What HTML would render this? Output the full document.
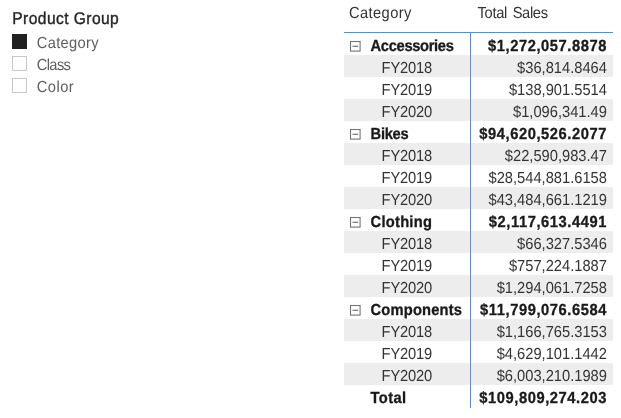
<!DOCTYPE html>
<html lang="en">
<head>
<meta charset="utf-8">
<title>Product Group</title>
<style>
html,body{margin:0;padding:0;background:#fff;}
body{width:621px;height:418px;position:relative;overflow:hidden;font-family:"Liberation Sans",sans-serif;font-size:14.7px;color:#333;text-rendering:geometricPrecision;}
.abs{position:absolute;white-space:nowrap;}
.slicer-title{left:12.3px;top:9.5px;transform:scaleY(1.088);transform-origin:0 15.4px;font-size:15.6px;font-weight:normal;-webkit-text-stroke:0.35px #252423;color:#252423;line-height:20px;letter-spacing:0.42px;}
.box{position:absolute;left:12px;width:15px;height:15px;box-sizing:border-box;border:1px solid #c8c8c8;background:#fff;}
.box.on{background:#212121;border-color:#212121;}
.item{left:36.8px;color:#605e5c;line-height:22px;height:22px;transform:scaleY(1.088);transform-origin:0 16.1px;}
.hdr{top:3px;line-height:22px;color:#333;transform:scaleY(1.088);transform-origin:0 16.1px;}
.hline{position:absolute;left:344px;top:32px;width:269px;height:1px;background:#3399ff;}
.vline{position:absolute;left:470px;top:32px;width:1px;height:376px;background:#3399ff;}
.row{position:absolute;left:344px;width:269px;height:22px;}
.row.alt{background:#ededed;}
.row .lbl{position:absolute;left:37.6px;top:3px;line-height:22px;white-space:nowrap;transform:scaleY(1.088);transform-origin:0 16.1px;}
.row .val{position:absolute;right:6.1px;top:3px;line-height:22px;white-space:nowrap;transform:scaleY(1.088);transform-origin:0 16.1px;}
.row.g .lbl,.row.t .lbl{left:26.6px;font-weight:bold;color:#1a1a1a;-webkit-text-stroke:0.3px #1a1a1a;}
.row.g .val,.row.t .val{font-weight:bold;color:#1a1a1a;letter-spacing:0.58px;right:6.6px;-webkit-text-stroke:0.3px #1a1a1a;}
.exp{position:absolute;left:5px;top:7px;width:13px;height:13px;}
</style>
</head>
<body>
<div class="abs slicer-title">Product Group</div>
<div class="box on" style="top:34px"></div><div class="abs item" style="top:33px;letter-spacing:0.31px">Category</div>
<div class="box" style="top:56px"></div><div class="abs item" style="top:55px;letter-spacing:-0.65px">Class</div>
<div class="box" style="top:78px"></div><div class="abs item" style="top:77px;letter-spacing:0.45px">Color</div>
<div class="abs hdr" style="left:349px;letter-spacing:0.39px">Category</div>
<div class="abs hdr" style="left:477.6px;letter-spacing:-0.34px;word-spacing:2px">Total Sales</div>

<div class="row g" style="top:33px"><svg class="exp" viewBox="0 0 13 13"><rect x="1.5" y="1.5" width="9.6" height="9.6" fill="none" stroke="#747474" stroke-width="1.1"/><rect x="3.5" y="5.7" width="5.6" height="1.2" fill="#747474"/></svg><span class="lbl" style="letter-spacing:-0.33px">Accessories</span><span class="val" style="margin-right:-0.58px">$1,272,057.8878</span></div>
<div class="row r alt" style="top:55px"><span class="lbl" style="letter-spacing:-0.15px">FY2018</span><span class="val">$36,814.8464</span></div>
<div class="row r" style="top:77px"><span class="lbl" style="letter-spacing:-0.15px">FY2019</span><span class="val">$138,901.5514</span></div>
<div class="row r alt" style="top:99px"><span class="lbl" style="letter-spacing:-0.15px">FY2020</span><span class="val">$1,096,341.49</span></div>
<div class="row g" style="top:121px"><svg class="exp" viewBox="0 0 13 13"><rect x="1.5" y="1.5" width="9.6" height="9.6" fill="none" stroke="#747474" stroke-width="1.1"/><rect x="3.5" y="5.7" width="5.6" height="1.2" fill="#747474"/></svg><span class="lbl" style="letter-spacing:-0.3px">Bikes</span><span class="val" style="margin-right:-0.58px">$94,620,526.2077</span></div>
<div class="row r alt" style="top:143px"><span class="lbl" style="letter-spacing:-0.15px">FY2018</span><span class="val">$22,590,983.47</span></div>
<div class="row r" style="top:165px"><span class="lbl" style="letter-spacing:-0.15px">FY2019</span><span class="val">$28,544,881.6158</span></div>
<div class="row r alt" style="top:187px"><span class="lbl" style="letter-spacing:-0.15px">FY2020</span><span class="val">$43,484,661.1219</span></div>
<div class="row g" style="top:209px"><svg class="exp" viewBox="0 0 13 13"><rect x="1.5" y="1.5" width="9.6" height="9.6" fill="none" stroke="#747474" stroke-width="1.1"/><rect x="3.5" y="5.7" width="5.6" height="1.2" fill="#747474"/></svg><span class="lbl" style="letter-spacing:0.25px">Clothing</span><span class="val" style="margin-right:-0.58px">$2,117,613.4491</span></div>
<div class="row r alt" style="top:231px"><span class="lbl" style="letter-spacing:-0.15px">FY2018</span><span class="val">$66,327.5346</span></div>
<div class="row r" style="top:253px"><span class="lbl" style="letter-spacing:-0.15px">FY2019</span><span class="val">$757,224.1887</span></div>
<div class="row r alt" style="top:275px"><span class="lbl" style="letter-spacing:-0.15px">FY2020</span><span class="val">$1,294,061.7258</span></div>
<div class="row g" style="top:297px"><svg class="exp" viewBox="0 0 13 13"><rect x="1.5" y="1.5" width="9.6" height="9.6" fill="none" stroke="#747474" stroke-width="1.1"/><rect x="3.5" y="5.7" width="5.6" height="1.2" fill="#747474"/></svg><span class="lbl" style="letter-spacing:0.17px">Components</span><span class="val" style="margin-right:-0.58px">$11,799,076.6584</span></div>
<div class="row r alt" style="top:319px"><span class="lbl" style="letter-spacing:-0.15px">FY2018</span><span class="val">$1,166,765.3153</span></div>
<div class="row r" style="top:341px"><span class="lbl" style="letter-spacing:-0.15px">FY2019</span><span class="val">$4,629,101.1442</span></div>
<div class="row r alt" style="top:363px"><span class="lbl" style="letter-spacing:-0.15px">FY2020</span><span class="val">$6,003,210.1989</span></div>
<div class="row t" style="top:385px"><span class="lbl" style="letter-spacing:0.4px">Total</span><span class="val" style="margin-right:-0.58px">$109,809,274.203</span></div>
<div class="hline"></div><div class="vline"></div>
</body>
</html>
